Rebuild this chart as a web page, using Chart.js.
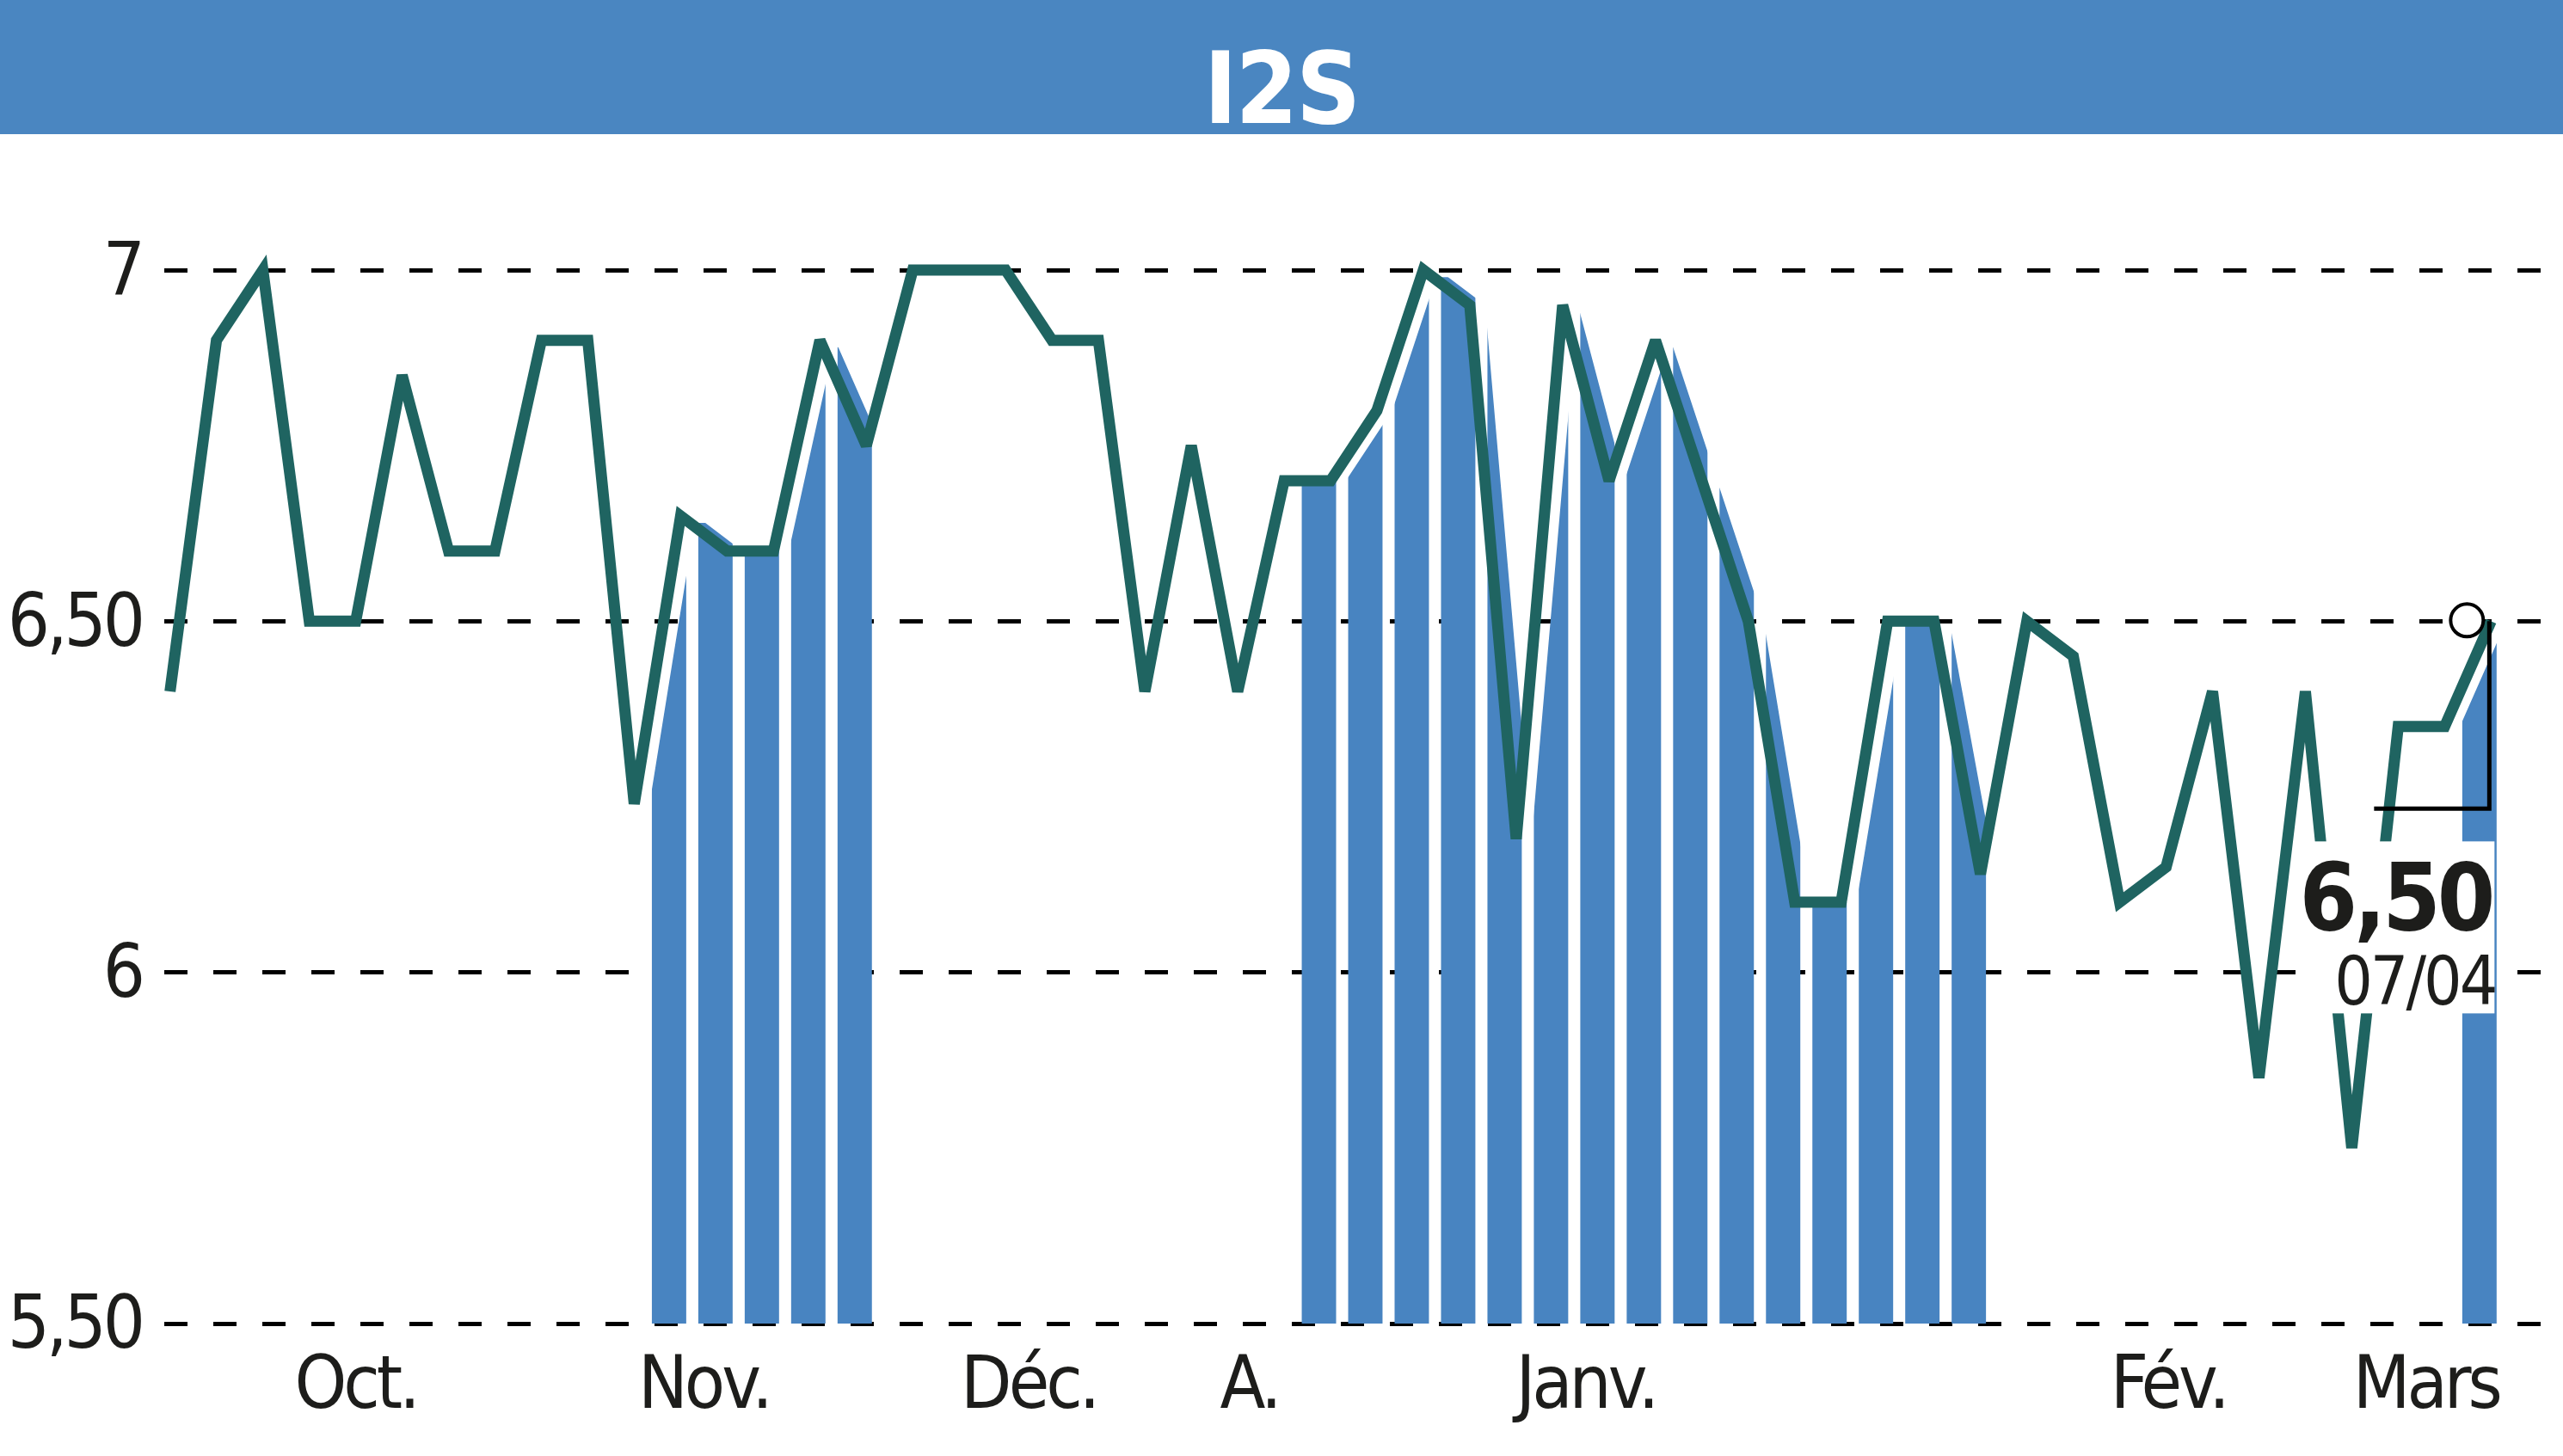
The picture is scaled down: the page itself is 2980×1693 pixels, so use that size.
<!DOCTYPE html>
<html>
<head>
<meta charset="utf-8">
<script src="https://cdn.jsdelivr.net/npm/chart.js@4.4.1/dist/chart.umd.min.js"></script>
<style>
  html, body { margin: 0; padding: 0; background: #fff; }
  #wrap { position: relative; width: 2980px; height: 1693px; overflow: hidden; }
  #band { position: absolute; left: 0; top: 0; width: 2980px; height: 156px; background: #4a86c1; }
  #band span {
    position: absolute; left: 0; right: 0; top: 45px; text-align: center;
    font: bold 116px/1 'DejaVu Sans Condensed', 'Liberation Sans Narrow', sans-serif;
    letter-spacing: -2px;
    color: #fff;
  }
  canvas { position: absolute; left: 0; top: 0; }
</style>
</head>
<body>
<div id="wrap">
  <canvas id="chart" width="2980" height="1693" style="width:2980px;height:1693px"></canvas>
  <div id="band"><span id="title"></span></div>
</div>
<script>
const title = 'I2S';
const lastDate = '07/04';

// weekly closes, oldest first
const prices = [6.40, 6.90, 7.00, 6.50, 6.50, 6.85, 6.60, 6.60, 6.90, 6.90,
                6.24, 6.65, 6.60, 6.60, 6.90, 6.75, 7.00, 7.00, 7.00, 6.90,
                6.90, 6.40, 6.75, 6.40, 6.70, 6.70, 6.80, 7.00, 6.95, 6.19,
                6.95, 6.70, 6.90, 6.70, 6.50, 6.10, 6.10, 6.50, 6.50, 6.14,
                6.50, 6.45, 6.10, 6.15, 6.40, 5.85, 6.40, 5.75, 6.35, 6.35, 6.50];

// blue stripes (top of each stripe), null = no stripe
const barTops = [null, null, null, null, null, null, null, null, null, null,
                 null, 6.64, 6.64, 6.60, 6.90, 6.89, null, null, null, null,
                 null, null, null, null, null, 6.70, 6.78, 6.99, 6.99, 6.94,
                 6.95, 6.94, 6.88, 6.89, 6.69, 6.49, 6.10, 6.45, 6.50, 6.49,
                 null, null, null, null, null, null, null, null, null, null, 6.49];

const monthLabels = ['Oct.', 'Nov.', 'Déc.', 'A.', 'Janv.', 'Fév.', 'Mars'];
const monthPos = [4, 11.5, 18.5, 23.25, 30.5, 43.05, 48.6];
const yTicks = [5.5, 6, 6.5, 7];

const X_MIN = -0.124, X_MAX = 51.55;
const Y_MIN = 5.5, Y_MAX = 7.1886;
const BAR_SHIFT = 0.25;  // stripes sit a bit left of the points
const FILL_LAG = 0.33;   // stripe tops follow the line a bit late

const LINE = '#1f6461';
const BAR = '#4884c1';
const INK = '#1d1d1b';
const FONT = "'DejaVu Sans Condensed', 'Liberation Sans Narrow', sans-serif";

document.getElementById('title').textContent = title;

const fmt = v => Number.isInteger(v) ? String(v) : v.toFixed(2).replace('.', ',');

// narrower text and clipped miters, set on the context before drawing
const ctxSetup = {
  id: 'ctxSetup',
  beforeDraw(chart) {
    chart.ctx.letterSpacing = '-4px';
    chart.ctx.miterLimit = 3;
  }
};

// stripes are only drawn below the (lagged) price line
const clipUnderLine = {
  id: 'clipUnderLine',
  beforeDatasetDraw(chart, args) {
    if (args.index !== 1) return;
    const pts = chart.getDatasetMeta(0).data;
    const xs = chart.scales.x;
    const lag = xs.getPixelForValue(FILL_LAG) - xs.getPixelForValue(0);
    const { bottom, right } = chart.chartArea;
    const ctx = chart.ctx;
    ctx.save();
    ctx.beginPath();
    ctx.moveTo(pts[0].x + lag, bottom);
    pts.forEach(p => ctx.lineTo(p.x + lag, p.y));
    ctx.lineTo(right, pts[pts.length - 1].y);
    ctx.lineTo(right, bottom);
    ctx.closePath();
    ctx.clip();
  },
  afterDatasetDraw(chart, args) {
    if (args.index === 1) chart.ctx.restore();
  }
};

const lastLabel = {
  id: 'lastLabel',
  afterDraw(chart) {
    const ctx = chart.ctx;
    const pts = chart.getDatasetMeta(0).data;
    const p = pts[pts.length - 1];
    ctx.save();
    ctx.fillStyle = '#fff';
    ctx.fillRect(p.x - 211, p.y + 256, 215, 200);

    ctx.fillStyle = INK;
    ctx.textAlign = 'right';
    ctx.textBaseline = 'alphabetic';
    ctx.letterSpacing = '-4px';
    ctx.font = 'bold 108px ' + FONT;
    ctx.fillText(fmt(prices[prices.length - 1]), p.x + 1, p.y + 359);
    ctx.letterSpacing = '-3px';
    ctx.font = '78px ' + FONT;
    ctx.fillText(lastDate, p.x + 5, p.y + 446);

    ctx.strokeStyle = '#000';
    ctx.lineWidth = 5;
    ctx.beginPath();
    ctx.moveTo(p.x - 2, p.y);
    ctx.lineTo(p.x - 2, p.y + 218);
    ctx.lineTo(p.x - 136, p.y + 218);
    ctx.stroke();

    ctx.lineWidth = 4;
    ctx.fillStyle = '#fff';
    ctx.beginPath();
    ctx.arc(p.x - 28, p.y - 1, 19, 0, Math.PI * 2);
    ctx.fill();
    ctx.stroke();
    ctx.restore();
  }
};

Chart.defaults.font.family = FONT;
Chart.defaults.color = INK;

new Chart(document.getElementById('chart'), {
  data: {
    datasets: [
      {
        type: 'line',
        data: prices.map((v, i) => ({ x: i, y: v })),
        borderColor: LINE,
        borderWidth: 13,
        borderJoinStyle: 'miter',
        pointRadius: 0,
        tension: 0,
        order: 0
      },
      {
        type: 'bar',
        data: barTops.map((v, i) => v == null ? null : { x: i - BAR_SHIFT, y: [Y_MIN, v] }).filter(Boolean),
        backgroundColor: BAR,
        borderWidth: 0,
        barPercentage: 0.74,
        categoryPercentage: 1,
        grouped: false,
        order: 1
      }
    ]
  },
  options: {
    responsive: false,
    devicePixelRatio: 1,
    animation: false,
    layout: { padding: { top: 160, left: 0, right: 0, bottom: 0 } },
    plugins: { legend: { display: false }, tooltip: { enabled: false } },
    scales: {
      x: {
        type: 'linear',
        bounds: 'data',
        offset: false,
        min: X_MIN,
        max: X_MAX,
        grid: { display: false, drawTicks: false, offset: false },
        border: { display: false },
        afterBuildTicks: s => { s.ticks = monthPos.map(v => ({ value: v })); },
        afterFit: s => { s.height = 154; },
        ticks: {
          autoSkip: false,
          maxRotation: 0,
          padding: 24,
          font: { size: 86 },
          color: INK,
          callback: (v, i) => monthLabels[i]
        }
      },
      y: {
        min: Y_MIN,
        max: Y_MAX,
        z: 1,
        afterBuildTicks: s => { s.ticks = yTicks.map(v => ({ value: v })); },
        afterFit: s => { s.width = 191; },
        grid: { color: '#000', lineWidth: 5, drawTicks: false },
        border: { display: false, dash: [27, 30] },
        ticks: { padding: 26, labelOffset: 6, font: { size: 86 }, color: INK, callback: v => fmt(v) }
      }
    }
  },
  plugins: [ctxSetup, clipUnderLine, lastLabel]
});
</script>
</body>
</html>
